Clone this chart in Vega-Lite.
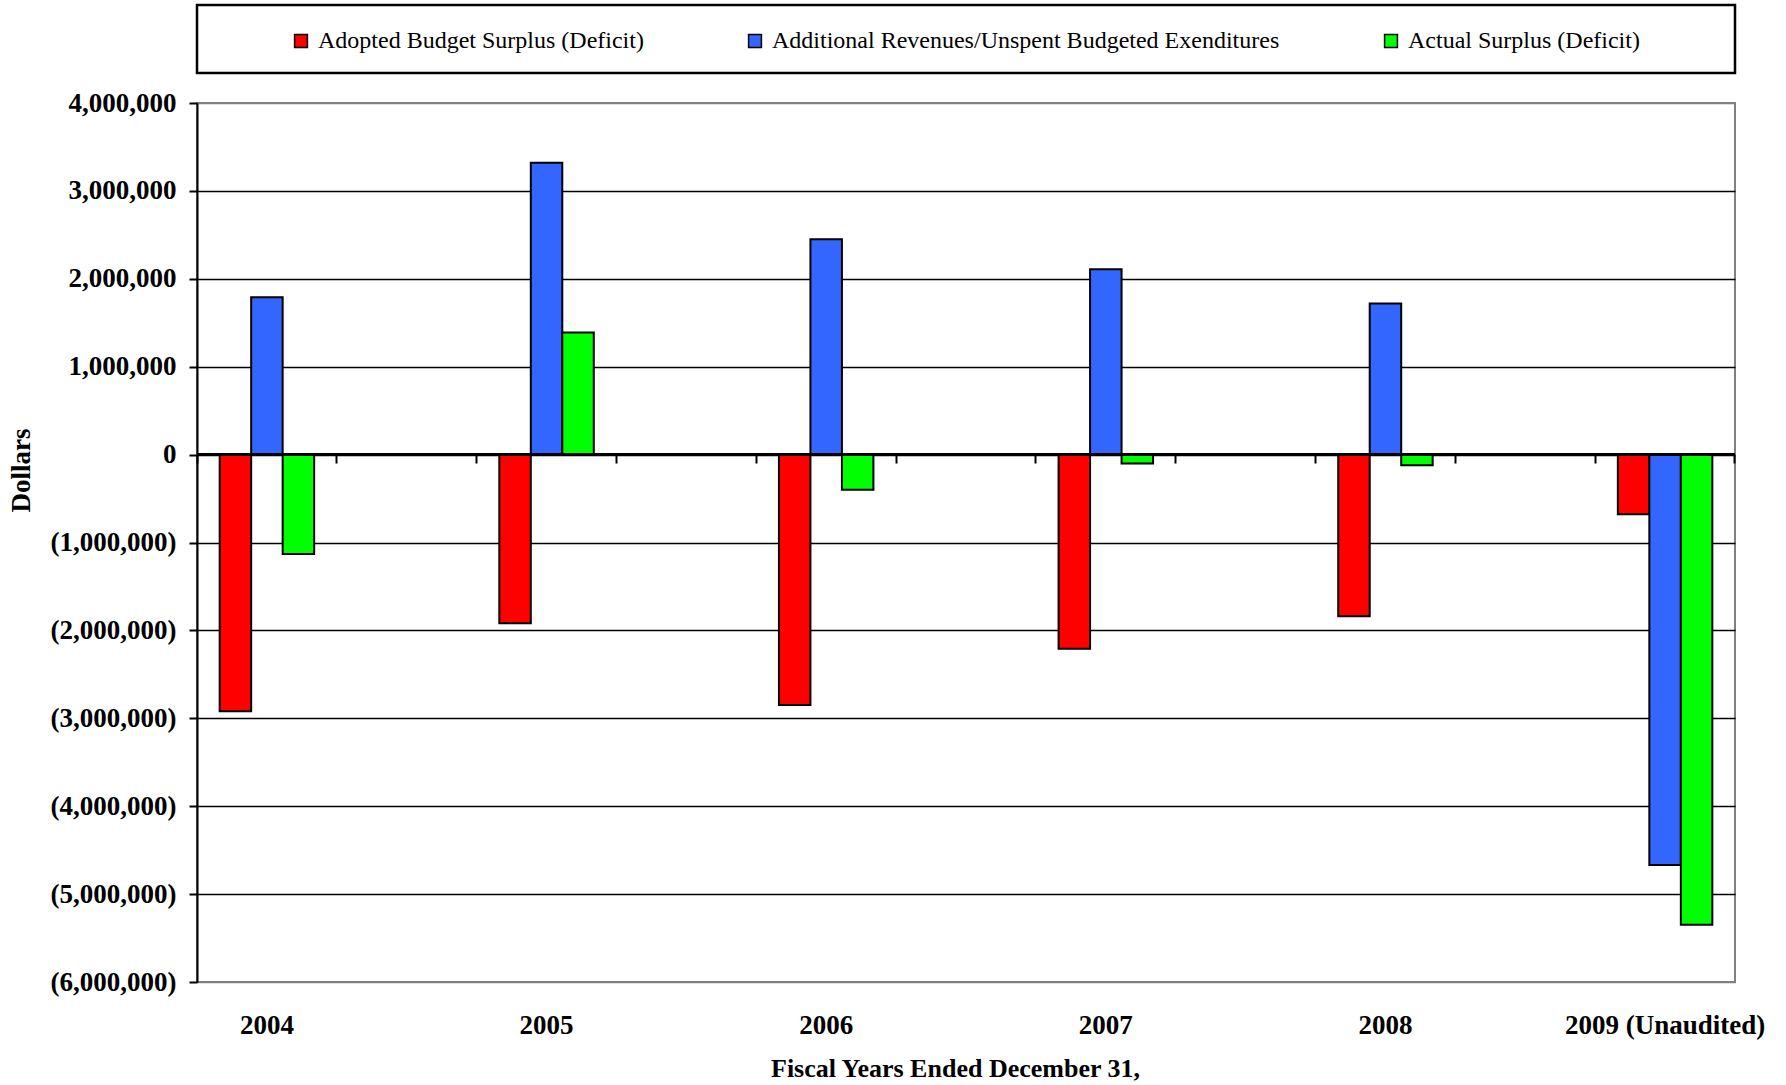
{
  "$schema": "https://vega.github.io/schema/vega-lite/v6.json",
  "autosize": {"type": "pad"},
  "padding": {"left": 6, "top": 1, "right": 4, "bottom": 3},
  "background": "white",
  "config": {"font": "Liberation Serif"},
  "bounds": "flush",
  "spacing": 30,
  "resolve": {"legend": {"color": "independent"}},
  "vconcat": [
    {
      "width": 1538,
      "height": 68,
      "view": {"stroke": "black", "strokeWidth": 2.5, "fill": "white"},
      "data": {"values": [{"frame": "legend"}]},
      "mark": {"type": "point", "opacity": 0},
      "encoding": {
        "x": {"datum": 0, "type": "quantitative", "axis": null},
        "y": {"datum": 0, "type": "quantitative", "axis": null}
      }
    },
    {
      "width": 1538,
      "height": 879,
      "view": {"stroke": "#808080", "strokeWidth": 2},
      "data": {
        "values": [
          {"year": "2004", "series": "Adopted Budget Surplus (Deficit)", "value": -2920000},
          {"year": "2004", "series": "Additional Revenues/Unspent Budgeted Exenditures", "value": 1790000},
          {"year": "2004", "series": "Actual Surplus (Deficit)", "value": -1130000},
          {"year": "2005", "series": "Adopted Budget Surplus (Deficit)", "value": -1920000},
          {"year": "2005", "series": "Additional Revenues/Unspent Budgeted Exenditures", "value": 3320000},
          {"year": "2005", "series": "Actual Surplus (Deficit)", "value": 1390000},
          {"year": "2006", "series": "Adopted Budget Surplus (Deficit)", "value": -2850000},
          {"year": "2006", "series": "Additional Revenues/Unspent Budgeted Exenditures", "value": 2450000},
          {"year": "2006", "series": "Actual Surplus (Deficit)", "value": -400000},
          {"year": "2007", "series": "Adopted Budget Surplus (Deficit)", "value": -2210000},
          {"year": "2007", "series": "Additional Revenues/Unspent Budgeted Exenditures", "value": 2110000},
          {"year": "2007", "series": "Actual Surplus (Deficit)", "value": -100000},
          {"year": "2008", "series": "Adopted Budget Surplus (Deficit)", "value": -1840000},
          {"year": "2008", "series": "Additional Revenues/Unspent Budgeted Exenditures", "value": 1720000},
          {"year": "2008", "series": "Actual Surplus (Deficit)", "value": -120000},
          {"year": "2009 (Unaudited)", "series": "Adopted Budget Surplus (Deficit)", "value": -680000},
          {"year": "2009 (Unaudited)", "series": "Additional Revenues/Unspent Budgeted Exenditures", "value": -4670000},
          {"year": "2009 (Unaudited)", "series": "Actual Surplus (Deficit)", "value": -5350000}
        ]
      },
      "resolve": {"axis": {"x": "independent"}},
      "layer": [
        {
          "mark": {"type": "bar", "stroke": "black", "strokeWidth": 2, "opacity": 1},
          "encoding": {
            "x": {
              "field": "year",
              "type": "nominal",
              "sort": null,
              "scale": {"paddingInner": 0.5, "paddingOuter": 0},
              "axis": {
                "orient": "bottom",
                "title": "Fiscal Years Ended December 31,",
                "titleFont": "Liberation Serif",
                "titleFontWeight": "bold",
                "titleFontSize": 26,
                "titleColor": "black",
                "titlePadding": 17,
                "titleX": 758,
                "labelAngle": 0,
                "labelFont": "Liberation Serif",
                "labelFontWeight": "bold",
                "labelFontSize": 27,
                "labelColor": "black",
                "labelPadding": 30,
                "labelLimit": 400,
                "labelOverlap": false,
                "ticks": false,
                "domain": false,
                "grid": false
              }
            },
            "xOffset": {
              "field": "series",
              "type": "nominal",
              "sort": [
                "Adopted Budget Surplus (Deficit)",
                "Additional Revenues/Unspent Budgeted Exenditures",
                "Actual Surplus (Deficit)"
              ],
              "scale": {"paddingInner": 0, "paddingOuter": 0.72}
            },
            "y": {
              "field": "value",
              "type": "quantitative",
              "scale": {"domain": [-6000000, 4000000], "nice": false, "zero": false},
              "axis": {
                "title": "Dollars",
                "titleFont": "Liberation Serif",
                "titleFontWeight": "bold",
                "titleFontSize": 27,
                "titleColor": "black",
                "titleX": -176,
                "titleY": 367,
                "titleBaseline": "middle",
                "values": [-6000000, -5000000, -4000000, -3000000, -2000000, -1000000, 0, 1000000, 2000000, 3000000, 4000000],
                "labelExpr": "datum.value < 0 ? '(' + format(-datum.value, ',') + ')' : format(datum.value, ',')",
                "labelFont": "Liberation Serif",
                "labelFontWeight": "bold",
                "labelFontSize": 27,
                "labelColor": "black",
                "labelPadding": 13,
                "tickSize": 8,
                "tickWidth": 2,
                "tickColor": "black",
                "domainColor": "black",
                "domainWidth": 2,
                "grid": true,
                "gridWidth": 1.6,
                "gridColor": {
                  "condition": {"test": "datum.value === 4000000 || datum.value === -6000000", "value": "#808080"},
                  "value": "black"
                }
              }
            },
            "color": {
              "field": "series",
              "type": "nominal",
              "sort": [
                "Adopted Budget Surplus (Deficit)",
                "Additional Revenues/Unspent Budgeted Exenditures",
                "Actual Surplus (Deficit)"
              ],
              "scale": {"range": ["#FF0000", "#3366FF", "#00FF00"]},
              "legend": {
                "title": null,
                "orient": "none",
                "direction": "horizontal",
                "legendX": 92,
                "legendY": -74,
                "padding": 0,
                "columnPadding": 99,
                "symbolType": "square",
                "symbolSize": 165,
                "symbolStrokeColor": "black",
                "symbolStrokeWidth": 1.5,
                "symbolOpacity": 1,
                "labelOffset": 5,
                "labelFont": "Liberation Serif",
                "labelFontSize": 24,
                "labelColor": "black",
                "labelLimit": 800
              }
            }
          }
        },
        {
          "mark": {"type": "rule", "color": "black", "strokeWidth": 2.6},
          "encoding": {"y": {"datum": 0}}
        },
        {
          "mark": {"type": "point", "opacity": 0},
          "encoding": {
            "x": {
              "field": "year",
              "type": "nominal",
              "sort": null,
              "axis": {
                "orient": "bottom",
                "offset": -527,
                "bandPosition": 0,
                "labels": false,
                "domain": false,
                "grid": false,
                "title": null,
                "ticks": true,
                "tickSize": 8,
                "tickWidth": 2,
                "tickColor": "black"
              }
            },
            "y": {"datum": 0}
          }
        },
        {
          "mark": {"type": "point", "opacity": 0},
          "encoding": {
            "x": {
              "field": "year",
              "type": "nominal",
              "sort": null,
              "axis": {
                "orient": "bottom",
                "offset": -527,
                "bandPosition": 1,
                "labels": false,
                "domain": false,
                "grid": false,
                "title": null,
                "ticks": true,
                "tickSize": 8,
                "tickWidth": 2,
                "tickColor": "black"
              }
            },
            "y": {"datum": 0}
          }
        }
      ]
    }
  ]
}
